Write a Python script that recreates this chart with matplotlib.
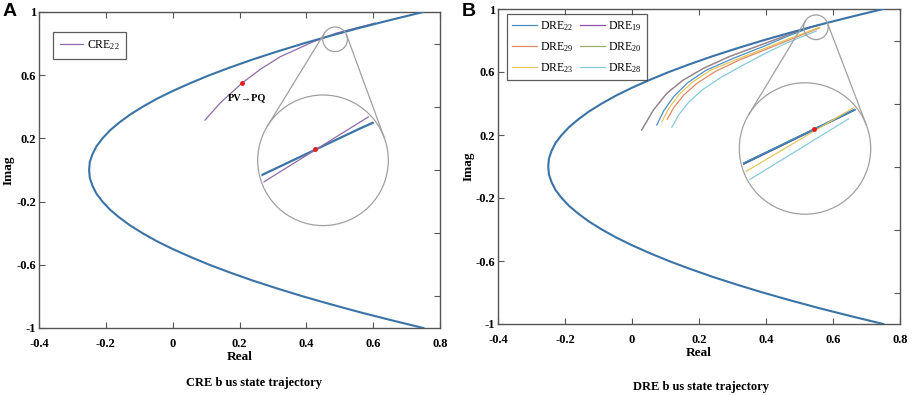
import numpy as np
import matplotlib
matplotlib.use("Agg")
import matplotlib.pyplot as plt
from matplotlib.patches import Circle
from matplotlib.lines import Line2D

plt.rcParams["font.family"] = ["Liberation Serif", "DejaVu Serif"]
plt.rcParams["mathtext.default"] = "regular"

BND = "#3B73A6"
GRID_C = "#555555"
MAG = "#A0A0A0"
RED = "#E0201B"

# ---- data ----
# voltage stability boundary (upper half, mirrored for the lower half)
bnd_y_half = [0.0, 0.05, 0.1, 0.15, 0.2, 0.25, 0.3, 0.35, 0.4, 0.45, 0.5,
              0.55, 0.6, 0.65, 0.7, 0.75, 0.8, 0.85, 0.9, 0.95, 1.0]
bnd_x_half = [-0.25, -0.248, -0.24, -0.228, -0.21, -0.188, -0.16, -0.128, -0.09, -0.048, 0.0,
              0.053, 0.11, 0.173, 0.24, 0.313, 0.39, 0.473, 0.56, 0.653, 0.75]
bnd_y = np.concatenate([-np.array(bnd_y_half[::-1]), bnd_y_half[1:]])
bnd_x = np.concatenate([bnd_x_half[::-1], bnd_x_half[1:]])

# panel A: CRE22 trajectory
cre22_x = [0.097, 0.142, 0.207, 0.262, 0.322, 0.421, 0.49, 0.606]
cre22_y = [0.316, 0.424, 0.549, 0.637, 0.717, 0.812, 0.8665, 0.93]
pvpq_pt = (0.207, 0.549)
cross_a = (0.456, 0.84)

# panel B: DRE trajectories
dre = {
    "DRE$_{19}$": ([0.029, 0.064, 0.104, 0.153, 0.213, 0.293, 0.392, 0.462, 0.52, 0.56],
                   [0.232, 0.359, 0.465, 0.549, 0.623, 0.70, 0.778, 0.832, 0.877, 0.9]),
    "DRE$_{22}$": ([0.074, 0.095, 0.125, 0.165, 0.22, 0.30, 0.392, 0.462, 0.54, 0.56],
                   [0.263, 0.355, 0.445, 0.53, 0.61, 0.685, 0.762, 0.825, 0.8885, 0.9]),
    "DRE$_{29}$": ([0.105, 0.125, 0.155, 0.195, 0.25, 0.325, 0.392, 0.462, 0.53, 0.56],
                   [0.30, 0.375, 0.455, 0.53, 0.605, 0.68, 0.737, 0.797, 0.855, 0.88]),
    "DRE$_{20}$": ([0.029, 0.064, 0.104, 0.153, 0.213, 0.293, 0.392, 0.462, 0.52, 0.56],
                   [0.232, 0.359, 0.465, 0.549, 0.623, 0.70, 0.778, 0.832, 0.877, 0.9]),
    "DRE$_{23}$": ([0.089, 0.11, 0.14, 0.18, 0.235, 0.31, 0.392, 0.462, 0.53, 0.56],
                   [0.284, 0.37, 0.455, 0.535, 0.612, 0.678, 0.746, 0.806, 0.86, 0.885]),
    "DRE$_{28}$": ([0.119, 0.14, 0.17, 0.21, 0.265, 0.33, 0.392, 0.462, 0.52, 0.55],
                   [0.249, 0.33, 0.41, 0.487, 0.565, 0.642, 0.712, 0.785, 0.835, 0.86]),
}
dre_colors = {"DRE$_{22}$": "#4A8FC8", "DRE$_{19}$": "#8E4FA8", "DRE$_{29}$": "#DE8A62",
              "DRE$_{20}$": "#9AAE6A", "DRE$_{23}$": "#E6C65E", "DRE$_{28}$": "#86CADB"}
dre_alpha = {"DRE$_{20}$": 0.6}
# legend order (two columns, filled column by column)
legend_order = ["DRE$_{22}$", "DRE$_{29}$", "DRE$_{23}$", "DRE$_{19}$", "DRE$_{20}$", "DRE$_{28}$"]
# magnified view in panel B (segments read from the zoom circle)
zoom_b = {
    "DRE$_{19}$": ([0.49, 0.545], [0.8595, 0.8914]),
    "DRE$_{29}$": ([0.49, 0.545], [0.8595, 0.8914]),
    "DRE$_{20}$": ([0.49, 0.545], [0.86, 0.8914]),
    "DRE$_{22}$": ([0.49, 0.545], [0.86, 0.8914]),
    "DRE$_{23}$": ([0.49, 0.54], [0.8552, 0.8903]),
    "DRE$_{28}$": ([0.49, 0.533], [0.8504, 0.8817]),
}
cross_b = (0.52, 0.877)

x_ticks = [-0.4, -0.2, 0, 0.2, 0.4, 0.6, 0.8]
x_labels = ["-0.4", "-0.2", "0", "0.2", "0.4", "0.6", "0.8"]
y_ticks = [-1, -0.6, -0.2, 0.2, 0.6, 1]
y_labels = ["-1", "-0.6", "-0.2", "0.2", "0.6", "1"]
y_minor = [-0.8, -0.6, -0.4, -0.2, 0, 0.2, 0.4, 0.6, 0.8]

W, H = 913, 396
fig = plt.figure(figsize=(W / 100, H / 100), dpi=100)
axA = fig.add_axes([39 / W, 68 / H, 401 / W, 316 / H])
axB = fig.add_axes([498 / W, 72 / H, 402 / W, 315 / H])


def style(ax, ylab_x):
    ax.set_xlim(-0.4, 0.8)
    ax.set_ylim(-1, 1)
    ax.set_xticks(x_ticks)
    ax.set_xticklabels(x_labels)
    ax.set_yticks(y_ticks)
    ax.set_yticklabels(y_labels)
    ax.set_yticks(y_minor, minor=True)
    ax.tick_params(which="major", direction="in", length=4, width=0.8, color=GRID_C,
                   labelsize=9, top=True, right=False, left=True)
    ax.tick_params(axis="x", which="major", pad=7)
    ax.tick_params(axis="y", which="major", pad=2)
    ax.tick_params(axis="y", which="minor", direction="in", length=4, width=0.8, color=GRID_C,
                   left=False, right=True)
    for lab in ax.get_xticklabels() + ax.get_yticklabels():
        lab.set_fontweight("bold")
    for s in ax.spines.values():
        s.set_color(GRID_C)
        s.set_linewidth(1.0)
    ax.set_xlabel("Real", fontsize=9.5, fontweight="bold", labelpad=1)
    ax.set_ylabel("Imag", fontsize=9.5, fontweight="bold")
    ax.yaxis.set_label_coords(ylab_x, 0.5)


style(axA, -0.06)
style(axB, -0.058)

# ---- panel A ----
axA.plot(bnd_x, bnd_y, color=BND, lw=1.5, zorder=3)
axA.plot(cre22_x, cre22_y, color="#8E6BAA", lw=0.9, label="CRE$_{22}$", zorder=2)
axA.plot(*pvpq_pt, "o", color=RED, ms=2.5, zorder=4)
axA.text(0.222, 0.456, "PV→PQ", fontsize=7.5, fontweight="bold", ha="center", va="center",
         family=["Liberation Serif", "DejaVu Serif"])
legA = axA.legend(loc="upper left", bbox_to_anchor=(0.035, 0.937), fontsize=8.5, frameon=True,
                  fancybox=False, handlelength=2.0, handletextpad=0.3, borderpad=0.55,
                  borderaxespad=0)
legA.get_frame().set_edgecolor("#333333")
legA.get_frame().set_linewidth(0.9)

# ---- panel B ----
axB.plot(bnd_x, bnd_y, color=BND, lw=1.5, zorder=3)
for name, (xs, ys) in dre.items():
    axB.plot(xs, ys, color=dre_colors[name], lw=0.9, alpha=dre_alpha.get(name, 1.0), zorder=2)
handles = [Line2D([], [], color=dre_colors[n], lw=0.9) for n in legend_order]
legB = axB.legend(handles, legend_order, loc="upper left", bbox_to_anchor=(0.022, 0.984),
                  ncol=2, fontsize=8.5, frameon=True, fancybox=False, handlelength=2.1,
                  handletextpad=0.3, columnspacing=0.5, labelspacing=0.6, borderpad=0.45,
                  borderaxespad=0)
legB.get_frame().set_edgecolor("#333333")
legB.get_frame().set_linewidth(0.9)

# ---- magnifiers ----
ov = fig.add_axes([0, 0, 1, 1], zorder=5)
ov.set_xlim(0, W)
ov.set_ylim(0, H)
ov.axis("off")
ov.patch.set_alpha(0)


def magnifier(ax, small_c, r_small, big_c, r_big, win, draw):
    c1 = np.array(ax.transData.transform(small_c))
    c2 = np.array(big_c, dtype=float)
    d = c2 - c1
    L = np.hypot(*d)
    u = d / L
    up = np.array([-u[1], u[0]])
    ct = (r_big - r_small) / L
    st = np.sqrt(1 - ct ** 2)
    for sgn in (1, -1):
        n = ct * u + sgn * st * up
        p1 = c1 - r_small * n
        p2 = c2 - r_big * n
        ov.plot([p1[0], p2[0]], [p1[1], p2[1]], color=MAG, lw=0.9)
    ov.add_patch(Circle(c1, r_small, fill=False, ec=MAG, lw=0.9))
    ov.add_patch(Circle(c2, r_big, fill=False, ec=MAG, lw=0.9))
    ins = fig.add_axes([(c2[0] - r_big) / W, (c2[1] - r_big) / H, 2 * r_big / W, 2 * r_big / H],
                       zorder=6)
    ins.set_xlim(win[0], win[1])
    ins.set_ylim(win[2], win[3])
    ins.axis("off")
    ins.patch.set_alpha(0)
    clip = Circle((0.5, 0.5), 0.485, transform=ins.transAxes, fill=False, ec="none")
    ins.add_patch(clip)
    draw(ins, clip)


def draw_a(ins, clip):
    for xs, ys, col, lw in [(bnd_x, bnd_y, BND, 1.6), (cre22_x, cre22_y, "#8E6BAA", 0.9)]:
        ln, = ins.plot(xs, ys, color=col, lw=lw)
        ln.set_clip_path(clip)
    ins.plot(*cross_a, "o", color=RED, ms=2.5)


def draw_b(ins, clip):
    for name in ["DRE$_{19}$", "DRE$_{29}$", "DRE$_{20}$"]:
        xs, ys = zoom_b[name]
        ln, = ins.plot(xs, ys, color=dre_colors[name], lw=0.9)
        ln.set_clip_path(clip)
    ln, = ins.plot(bnd_x, bnd_y, color=BND, lw=1.6)
    ln.set_clip_path(clip)
    for name in ["DRE$_{22}$", "DRE$_{23}$", "DRE$_{28}$"]:
        xs, ys = zoom_b[name]
        ln, = ins.plot(xs, ys, color=dre_colors[name], lw=0.9 if name != "DRE$_{22}$" else 0.6)
        ln.set_clip_path(clip)
    ins.plot(*cross_b, "o", color=RED, ms=2.5)


wa = 0.05
ha = wa / 0.787
magnifier(axA, (0.486, 0.827), 12.3, (323, H - 160.3), 65.3,
          (cross_a[0] - 0.439 * wa, cross_a[0] + 0.561 * wa,
           cross_a[1] - 0.584 * ha, cross_a[1] + 0.416 * ha), draw_a)
wb = 0.05
hb = wb / 0.844
magnifier(axB, (0.549, 0.884), 12.3, (805, H - 148.5), 65.7,
          (cross_b[0] - 0.571 * wb, cross_b[0] + 0.429 * wb,
           cross_b[1] - 0.646 * hb, cross_b[1] + 0.354 * hb), draw_b)

# ---- captions and panel letters ----
fig.text(254 / W, 1 - 383 / H, "CRE b us state trajectory", fontsize=9, fontweight="bold",
         ha="center", va="center")
fig.text(701 / W, 1 - 387 / H, "DRE b us state trajectory", fontsize=9, fontweight="bold",
         ha="center", va="center")
fig.text(3 / W, 1 - 12 / H, "A", fontsize=14, fontweight="bold", family="Liberation Sans",
         ha="left", va="center")
fig.text(462 / W, 1 - 12 / H, "B", fontsize=14, fontweight="bold", family="Liberation Sans",
         ha="left", va="center")

fig.savefig("out.png", dpi=100)
